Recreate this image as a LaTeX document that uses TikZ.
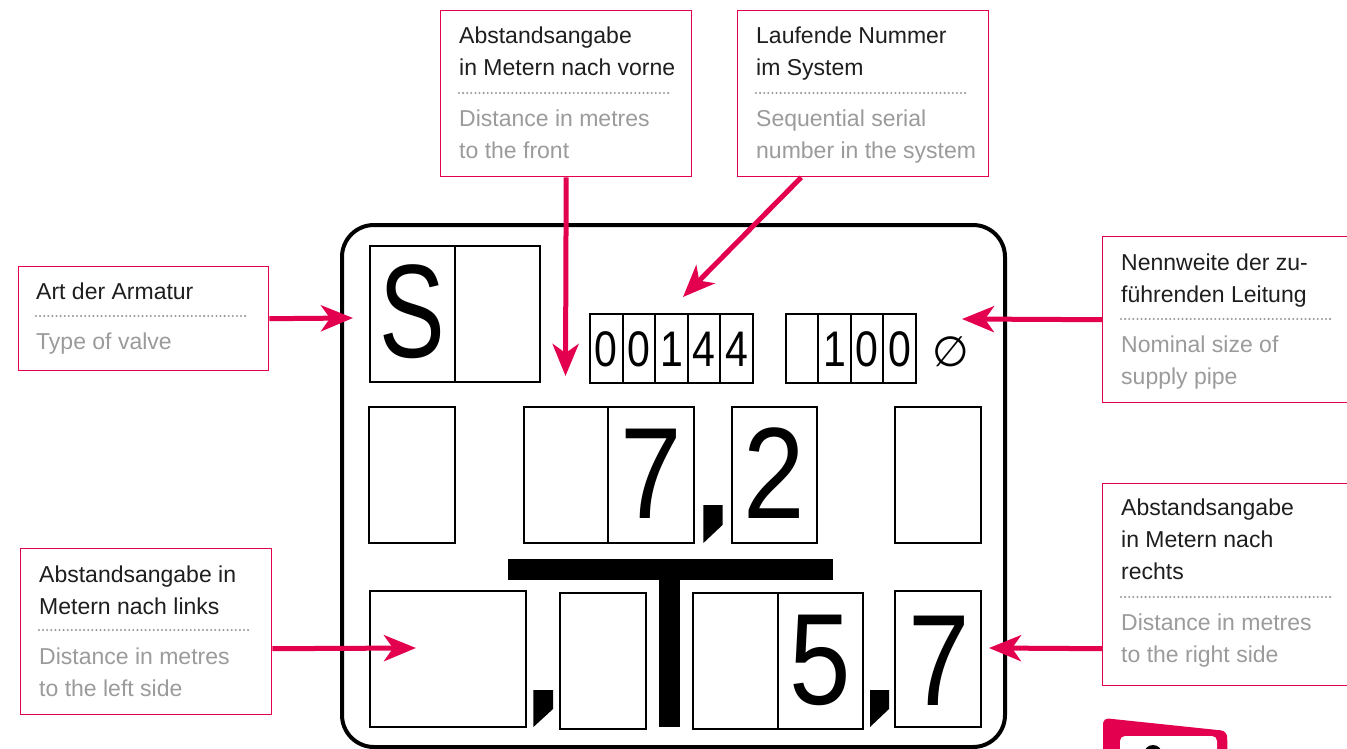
\documentclass[tikz,border=0pt]{standalone}
\usepackage{fontspec}
\usepackage{graphicx}
\setmainfont{Liberation Sans}
\newfontfamily\symfont{DejaVu Sans}
\usetikzlibrary{arrows.meta}
\definecolor{accent}{HTML}{E2004F}
\definecolor{titletxt}{HTML}{1E1E1E}
\definecolor{greytxt}{HTML}{9B9B9B}
\definecolor{dotgrey}{HTML}{9A9A9A}
\newcommand\tallglyph[3]{{\fontsize{#1}{#1}\selectfont\scalebox{#2}[1]{#3}}}
\tikzset{
  arr/.style={draw=accent, line width=5pt, -{Stealth[length=32pt,width=26pt,inset=9pt]}},
  lbox/.style={draw=accent, line width=1.4pt, fill=white, inner sep=0pt, anchor=north west},
  ttl/.style={anchor=base west, inner sep=0pt, text=titletxt, font=\fontsize{23}{32}\selectfont},
  sub/.style={anchor=base west, inner sep=0pt, text=greytxt, font=\fontsize{23}{32}\selectfont},
  dots/.style={draw=dotgrey, line width=2.3pt, line cap=round, dash pattern=on 0pt off 4.1pt},
  cell/.style={draw=black, line width=2pt},
  bigd/.style={inner sep=0pt, text=black},
}
\begin{document}
\begin{tikzpicture}[x=1pt,y=-1pt]
\useasboundingbox (0,0) rectangle (1347,749);
\clip (0,0) rectangle (1347,749);
\fill[white] (0,0) rectangle (1347,749);

% partial red icon bottom right
\fill[accent, rounded corners=6pt] (1103,718) -- (1227,731) -- (1228,770) -- (1103,770) -- cycle;
\fill[white, rounded corners=5pt] (1120,736) rectangle (1217,770);
\fill[black] (1153,754) circle (9);

% outer frame
\draw[line width=4pt, rounded corners=32pt] (342,225) rectangle (1005,747);

% row 1
\draw[cell] (370,246) rectangle (540,382);
\draw[cell] (455,246) -- (455,382);
\node[bigd] (dS) at (412,312) {\tallglyph{133}{0.74}{S}};

\draw[cell] (590,314) rectangle (753,383);
\foreach \xx in {622.6,655.2,687.8,720.4} \draw[cell] (\xx,314) -- (\xx,383);
\node[bigd] (n1) at (606.3,349) {\tallglyph{50}{0.82}{0}};
\node[bigd] (n2) at (638.9,349) {\tallglyph{50}{0.82}{0}};
\node[bigd] (n3) at (671.5,349) {\tallglyph{50}{0.82}{1}};
\node[bigd] (n4) at (704.1,349) {\tallglyph{50}{0.82}{4}};
\node[bigd] (n5) at (736.7,349) {\tallglyph{50}{0.82}{4}};

\draw[cell] (786,314) rectangle (915.5,383);
\foreach \xx in {818.4,850.8,883.2} \draw[cell] (\xx,314) -- (\xx,383);
\node[bigd] (w2) at (834.6,349) {\tallglyph{50}{0.82}{1}};
\node[bigd] (w3) at (867,349) {\tallglyph{50}{0.82}{0}};
\node[bigd] (w4) at (899.4,349) {\tallglyph{50}{0.82}{0}};
\node[bigd] (dia) at (951,352) {\tallglyph{42}{1}{\symfont ∅}};

% row 2
\draw[cell] (369,407) rectangle (454.5,543);
\draw[cell] (523.5,407) rectangle (693.5,543);
\draw[cell] (608,407) -- (608,543);
\node[bigd] (r7) at (651,473.5) {\tallglyph{130}{0.85}{7}};
\fill[black] (703.4,505) -- (722.5,505) -- (722.5,525) -- (703.4,543) -- cycle;
\draw[cell] (731.6,407) rectangle (817,543);
\node[bigd] (r2) at (774,473.5) {\tallglyph{130}{0.85}{2}};
\draw[cell] (895,407) rectangle (980.5,543);

% T symbol
\fill[black] (508,559) rectangle (833,580);
\fill[black] (659,580) rectangle (679.5,727);

% row 3
\draw[cell] (369.5,591) rectangle (525.6,727);
\fill[black] (533.4,690) -- (553,690) -- (553,709) -- (533.4,727) -- cycle;
\draw[cell] (560.3,592.5) rectangle (645.7,728.5);
\draw[cell] (693,592.5) rectangle (863.4,728.5);
\draw[cell] (778,592.5) -- (778,728.5);
\node[bigd] (s5) at (820,660.5) {\tallglyph{130}{0.85}{5}};
\fill[black] (870,690) -- (889,690) -- (889,709) -- (870,727) -- cycle;
\draw[cell] (895,591) rectangle (980.5,727);
\node[bigd] (s7) at (939,660.5) {\tallglyph{130}{0.85}{7}};

% label boxes
\node[lbox, minimum width=250pt, minimum height=104pt] (bArt) at (18,266) {};
\node[lbox, minimum width=251pt, minimum height=166pt] (bVorne) at (440,10) {};
\node[lbox, minimum width=251pt, minimum height=166pt] (bNummer) at (737,10) {};
\node[lbox, minimum width=270pt, minimum height=166pt] (bNenn) at (1102,236) {};
\node[lbox, minimum width=251pt, minimum height=166pt] (bLinks) at (20,548) {};
\node[lbox, minimum width=270pt, minimum height=202pt] (bRechts) at (1102,483) {};

% arrow targets
\coordinate (tArt) at (353,318);
\coordinate (tVorne) at (565.5,376);
\coordinate (tNum) at (683,297);
\coordinate (tNenn) at (962,319);
\coordinate (tLinks) at (416,648);
\coordinate (tRechts) at (989,648);
\coordinate (sNum) at ([xshift=-62pt]bNummer.south);
\coordinate (sLinks) at ([yshift=-17pt]bLinks.east);
\coordinate (sRechts) at ([yshift=-64pt]bRechts.west);

\draw[arr] (bArt.east) -- (tArt);
\draw[arr] (bVorne.south) -- (tVorne);
\draw[arr] (sNum) -- (tNum);
\draw[arr] (bNenn.west) -- (tNenn);
\draw[arr] (sLinks) -- (tLinks);
\draw[arr] (sRechts) -- (tRechts);

% texts: Art der Armatur
\node[ttl] (t1a) at (36,299.5) {Art der Armatur};
\draw[dots] (36,316) -- (248,316);
\node[sub] (t1b) at (36,349.5) {Type of valve};

% Abstand vorne
\node[ttl] (t2a) at (459,43.5) {Abstandsangabe};
\node[ttl] (t2b) at (459,75.5) {in Metern nach vorne};
\draw[dots] (459,93) -- (672,93);
\node[sub] (t2c) at (459,126.5) {Distance in metres};
\node[sub] (t2d) at (459,158) {to the front};

% Laufende Nummer
\node[ttl] (t3a) at (756,43.5) {Laufende Nummer};
\node[ttl] (t3b) at (756,75.5) {im System};
\draw[dots] (756,93) -- (969,93);
\node[sub] (t3c) at (756,126.5) {Sequential serial};
\node[sub] (t3d) at (756,158) {number in the system};

% Nennweite
\node[ttl] (t4a) at (1121,270.5) {Nennweite der zu-};
\node[ttl] (t4b) at (1121,302) {führenden Leitung};
\draw[dots] (1121,319) -- (1334,319);
\node[sub] (t4c) at (1121,352.5) {Nominal size of};
\node[sub] (t4d) at (1121,384) {supply pipe};

% links
\node[ttl] (t5a) at (39,582.5) {Abstandsangabe in};
\node[ttl] (t5b) at (39,614) {Metern nach links};
\draw[dots] (39,630) -- (251,630);
\node[sub] (t5c) at (39,664.5) {Distance in metres};
\node[sub] (t5d) at (39,696) {to the left side};

% rechts
\node[ttl] (t6a) at (1121,515.5) {Abstandsangabe};
\node[ttl] (t6b) at (1121,547.5) {in Metern nach};
\node[ttl] (t6c) at (1121,579.5) {rechts};
\draw[dots] (1121,597) -- (1334,597);
\node[sub] (t6d) at (1121,630.5) {Distance in metres};
\node[sub] (t6e) at (1121,662) {to the right side};
\end{tikzpicture}
\end{document}
